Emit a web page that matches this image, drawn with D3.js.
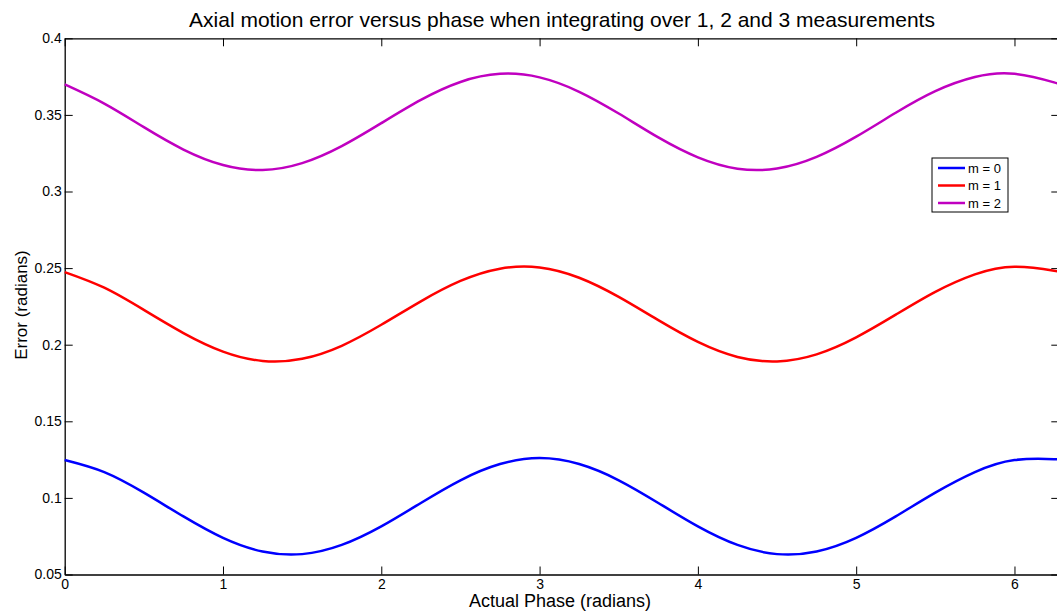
<!DOCTYPE html>
<html>
<head>
<meta charset="utf-8">
<script src="https://cdn.jsdelivr.net/npm/d3@7"></script>
<style>
  body { margin: 0; background: #fff; }
  svg { display: block; font-family: "Liberation Sans", Arial, sans-serif; }
</style>
</head>
<body>
<svg id="chart" width="1057" height="613"></svg>
<script>
// phase samples (radians) and error for each m
const phase = [0, 0.25, 0.5, 0.75, 1.0, 1.25, 1.5, 1.75, 2.0, 2.25, 2.5, 2.75, 3.0,
  3.25, 3.5, 3.75, 4.0, 4.25, 4.5, 4.75, 5.0, 5.25, 5.5, 5.75, 6.0, 6.25, 6.2832];

const errM0 = [0.1247, 0.1168, 0.1034, 0.0879, 0.0739, 0.0650, 0.0633, 0.0693, 0.0814,
  0.0967, 0.1115, 0.1221, 0.1260, 0.1221, 0.1115, 0.0967, 0.0814, 0.0693, 0.0633,
  0.0650, 0.0739, 0.0879, 0.1034, 0.1168, 0.1247, 0.1253, 0.1247];

const errM1 = [0.2474, 0.2372, 0.2227, 0.2076, 0.1955, 0.1894, 0.1908, 0.1993, 0.2130,
  0.2283, 0.2416, 0.2496, 0.2504, 0.2437, 0.2312, 0.2160, 0.2018, 0.1920, 0.1891,
  0.1937, 0.2048, 0.2196, 0.2345, 0.2459, 0.2509, 0.2483, 0.2474];

const errM2 = [0.3699, 0.3574, 0.3420, 0.3274, 0.3173, 0.3140, 0.3185, 0.3296, 0.3446,
  0.3598, 0.3715, 0.3768, 0.3745, 0.3651, 0.3509, 0.3353, 0.3223, 0.3149, 0.3150,
  0.3226, 0.3358, 0.3514, 0.3655, 0.3747, 0.3768, 0.3712, 0.3699];

const seriesNames = ["m = 0", "m = 1", "m = 2"];
const seriesColors = ["#0000ff", "#ff0000", "#c000c0"];
const xTicks = [0, 1, 2, 3, 4, 5, 6];
const yTicks = [0.05, 0.1, 0.15, 0.2, 0.25, 0.3, 0.35, 0.4];

const svg = d3.select("#chart");
const plotLeft = 64.7, plotRight = 1059.3, plotTop = 38.3, plotBottom = 574.5;

const x = d3.scaleLinear().domain([0, 2 * Math.PI]).range([plotLeft, plotRight]);
const y = d3.scaleLinear().domain([0.05, 0.4]).range([plotBottom, plotTop]);

const fmt = d => String(+d.toFixed(2));

// axes: ticks pointing inward on all four sides
const axisStyle = g => {
  g.select(".domain").attr("stroke", "#000").attr("stroke-width", 1.3);
  g.selectAll(".tick line").attr("stroke", "#000").attr("stroke-width", 1);
  g.selectAll(".tick text").attr("fill", "#000").attr("font-size", 14);
};

svg.append("g").attr("transform", `translate(0,${plotBottom})`)
  .call(d3.axisBottom(x).tickValues(xTicks).tickFormat(fmt).tickSizeInner(-8).tickSizeOuter(0).tickPadding(5))
  .call(axisStyle);
svg.append("g").attr("transform", `translate(0,${plotTop})`)
  .call(d3.axisTop(x).tickValues(xTicks).tickFormat("").tickSizeInner(-8).tickSizeOuter(0))
  .call(axisStyle);
svg.append("g").attr("transform", `translate(${plotLeft},0)`)
  .call(d3.axisLeft(y).tickValues(yTicks).tickFormat(fmt).tickSizeInner(-8).tickSizeOuter(0).tickPadding(3))
  .call(axisStyle);
svg.append("g").attr("transform", `translate(${plotRight},0)`)
  .call(d3.axisRight(y).tickValues(yTicks).tickFormat("").tickSizeInner(-8).tickSizeOuter(0))
  .call(axisStyle);

// lines
const series = [errM0, errM1, errM2];
const line = d3.line()
  .x((d, i) => x(phase[i]))
  .y(d => y(d))
  .curve(d3.curveNatural);

svg.append("g")
  .selectAll("path")
  .data(series)
  .join("path")
  .attr("d", d => line(d))
  .attr("fill", "none")
  .attr("stroke", (d, i) => seriesColors[i])
  .attr("stroke-width", 2.5);

// title and labels
svg.append("text")
  .attr("x", 562).attr("y", 26.5)
  .attr("text-anchor", "middle").attr("font-size", 21)
  .text("Axial motion error versus phase when integrating over 1, 2 and 3 measurements");

svg.append("text")
  .attr("x", 560).attr("y", 606.5)
  .attr("text-anchor", "middle").attr("font-size", 18)
  .text("Actual Phase (radians)");

svg.append("text")
  .attr("transform", `translate(26.5,305) rotate(-90)`)
  .attr("text-anchor", "middle").attr("font-size", 17)
  .text("Error (radians)");

// legend
const legend = svg.append("g").attr("transform", "translate(932,158)");
legend.append("rect")
  .attr("width", 76).attr("height", 54)
  .attr("fill", "#fff").attr("stroke", "#000").attr("stroke-width", 1);

const rows = legend.selectAll("g.row")
  .data(seriesNames)
  .join("g")
  .attr("class", "row")
  .attr("transform", (d, i) => `translate(0,${10 + i * 17.5})`);
rows.append("line")
  .attr("x1", 6).attr("x2", 33)
  .attr("stroke", (d, i) => seriesColors[i]).attr("stroke-width", 2.5);
rows.append("text")
  .attr("x", 36).attr("y", 4.5)
  .attr("font-size", 13)
  .text(d => d);
</script>
</body>
</html>
